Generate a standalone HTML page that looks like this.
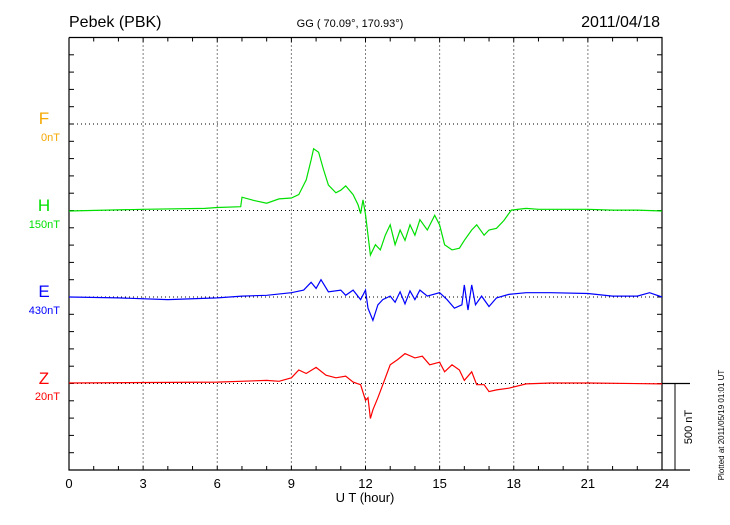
<!DOCTYPE html>
<html><head><meta charset="utf-8"><style>
body{margin:0;background:#fff}
svg{font-family:"Liberation Sans",sans-serif}
</style></head><body>
<svg id="c" width="730" height="520" viewBox="0 0 730 520" xmlns="http://www.w3.org/2000/svg">
<text x="69" y="27" font-size="16">Pebek (PBK)</text>
<text x="350" y="27" font-size="11" text-anchor="middle">GG ( 70.09°, 170.93°)</text>
<text x="660" y="27" font-size="16" text-anchor="end">2011/04/18</text>
<g id="grid"></g>
<g id="axes"></g>
<g id="series"></g>
<text x="44" y="124" font-size="17" fill="#f5a800" text-anchor="middle">F</text>
<text x="60" y="141" font-size="11" fill="#f5a800" text-anchor="end">0nT</text>
<text x="44" y="211" font-size="17" fill="#00e000" text-anchor="middle">H</text>
<text x="60" y="228" font-size="11" fill="#00e000" text-anchor="end">150nT</text>
<text x="44" y="297" font-size="17" fill="#0000ff" text-anchor="middle">E</text>
<text x="60" y="314" font-size="11" fill="#0000ff" text-anchor="end">430nT</text>
<text x="44" y="384" font-size="17" fill="#ff0000" text-anchor="middle">Z</text>
<text x="60" y="400" font-size="11" fill="#ff0000" text-anchor="end">20nT</text>
<text x="365" y="502" font-size="13" text-anchor="middle">U T (hour)</text>
<line x1="675" y1="383" x2="675" y2="470" stroke="#000"/>
<text transform="translate(692,427) rotate(-90)" font-size="11" text-anchor="middle">500 nT</text>
<text transform="translate(724,425) rotate(-90)" font-size="8" text-anchor="middle">Plotted at 2011/05/19 01:01  UT</text>
</svg>
<script>
const xTicks=[0,3,6,9,12,15,18,21,24];
const hT=[0,3,5.5,6,6.95,7.0,7.5,8,8.5,9,9.3,9.6,9.8,9.9,10.1,10.3,10.5,10.8,11.0,11.2,11.5,11.7,11.8,11.9,12.0,12.1,12.2,12.4,12.6,12.8,13.0,13.2,13.4,13.6,13.8,14.0,14.2,14.5,14.8,15.0,15.2,15.5,15.8,16.0,16.3,16.5,16.8,17.0,17.3,17.6,17.9,18.5,19,20,21,22,23,24];
const hV=[0,10,15,20,25,80,60,45,70,75,95,180,295,360,340,240,150,105,120,145,95,35,-15,65,-20,-140,-255,-195,-225,-140,-80,-195,-110,-170,-80,-140,-50,-110,-25,-80,-195,-225,-215,-170,-110,-80,-140,-110,-100,-55,5,15,10,10,10,5,5,0];
const eT=[0,2,4,6,7,8,9,9.5,9.8,10,10.2,10.5,11,11.2,11.5,11.8,12.0,12.1,12.3,12.5,12.7,13,13.2,13.4,13.6,13.8,14,14.2,14.5,15,15.3,15.6,15.9,16.0,16.15,16.3,16.45,16.7,17.0,17.3,17.8,18.5,19.5,21,22,23,23.5,24];
const eV=[0,-5,-15,-5,5,10,25,40,85,50,100,30,40,10,40,-15,40,-65,-135,-45,-15,5,-30,30,-40,35,-15,40,5,25,-15,-65,-45,70,-75,70,-45,5,-55,-5,15,25,25,20,5,5,25,0];
const zT=[0,6,8,8.5,9,9.3,9.6,10,10.4,10.8,11.2,11.5,11.8,12.0,12.1,12.2,12.3,12.5,12.7,13.0,13.3,13.6,14.0,14.3,14.6,15,15.2,15.5,15.8,16.0,16.3,16.5,16.8,17.0,17.3,17.8,18.5,19.5,21,24];
const zV=[0,5,15,10,30,75,55,90,45,30,40,5,-10,-100,-85,-205,-155,-85,-10,105,135,170,145,155,105,120,65,105,75,15,65,-10,-10,-50,-40,-30,-5,0,0,-5];
const X0=69,X1=662,Y0=37.5,Y1=470;
const xs=h=>X0+(X1-X0)*h/24;
const pxPerNT=86.5/500;
const ys=(base,v)=>base-v*pxPerNT;
const NS="http://www.w3.org/2000/svg";
function mk(tag,attrs,parent){const e=document.createElementNS(NS,tag);for(const k in attrs)e.setAttribute(k,attrs[k]);parent.appendChild(e);return e;}
const grid=document.getElementById('grid'),axes=document.getElementById('axes'),ser=document.getElementById('series');
const baselines=[124,210.5,297,383.5];
xTicks.forEach(t=>{
 if(t>0&&t<24){const l=mk('line',{x1:xs(t),y1:Y0,x2:xs(t),y2:Y1,stroke:'#000','stroke-dasharray':'1,3','stroke-width':1},grid);
 
 }
 const tx=mk('text',{x:xs(t),y:488,'font-size':13,'text-anchor':'middle'},axes);tx.textContent=t;
 
 
});
baselines.forEach(b=>{const l=mk('line',{x1:X0,y1:b,x2:X1,y2:b,stroke:'#000','stroke-dasharray':'1,3'},grid);
 
 });
let f=mk('path',{d:`M${X0},${Y0}H${X1}V${Y1}M${X0},${Y0}V${Y1}H690M${X1},383.5H690`,stroke:'#000',fill:'none','stroke-width':1.2},axes);
for(let h=1;h<24;h++){mk('line',{x1:xs(h),y1:Y0,x2:xs(h),y2:Y0+4,stroke:'#000'},axes);mk('line',{x1:xs(h),y1:Y1,x2:xs(h),y2:Y1-4,stroke:'#000'},axes);}
for(let y=Y0+17.3;y<Y1;y+=17.3){mk('line',{x1:X0,y1:y,x2:X0+5,y2:y,stroke:'#000'},axes);mk('line',{x1:X1,y1:y,x2:X1-5,y2:y,stroke:'#000'},axes);}
function draw(T,V,base,col,name){
 const d=T.map((t,i)=>(i?'L':'M')+xs(t).toFixed(1)+','+ys(base,V[i]).toFixed(1)).join('');
 const p=mk('path',{d:d,stroke:col,fill:'none','stroke-width':1.2},ser);
 
 
}
draw(hT,hV,211,'#00e000','h-series');
draw(eT,eV,297,'#0000ff','e-series');
draw(zT,zV,383,'#ff0000','z-series');
</script>
</body></html>
